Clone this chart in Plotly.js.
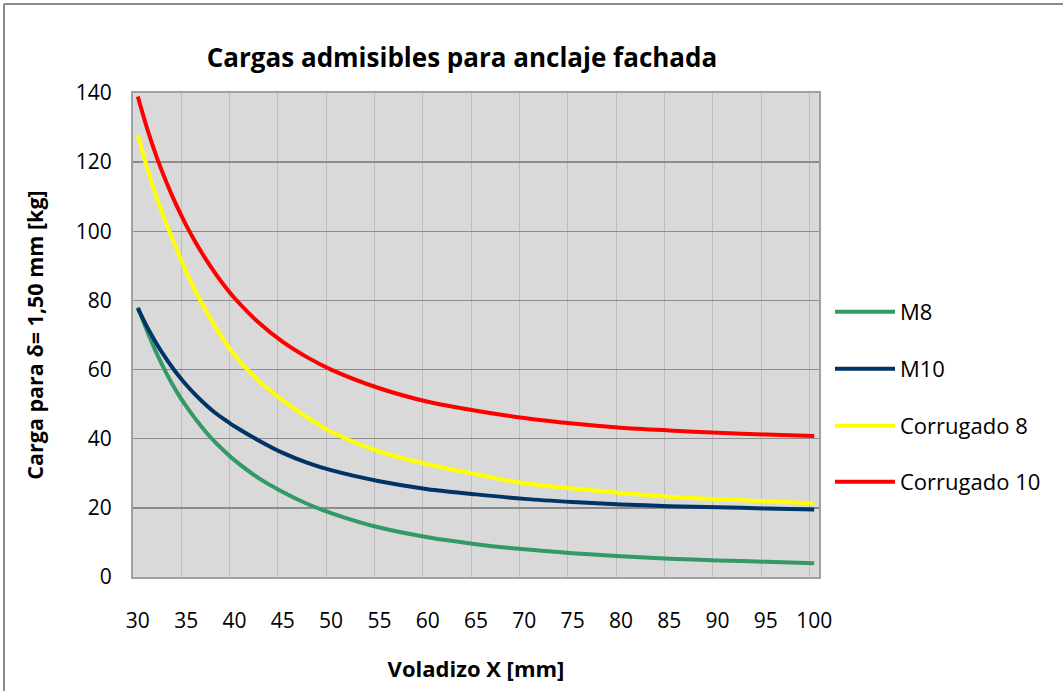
<!DOCTYPE html>
<html>
<head>
<meta charset="utf-8">
<script src="https://cdn.plot.ly/plotly-3.0.1.min.js"></script>
<style>
html,body{margin:0;padding:0;background:#fff;}
#chart{width:1063px;height:691px;}
</style>
</head>
<body>
<div id="chart"></div>
<script>
var voladizo =    [30,31,32,33,34,35,36,37,38,39,40,42.5,45,47.5,50,55,60,65,70,75,80,85,90,95,100];
var m8 =          [78,70.9,64.4,58.7,53.7,49.4,45.6,42.1,39.0,36.3,33.8,28.6,24.6,21.2,18.5,14.3,11.5,9.5,8.0,6.9,6.0,5.3,4.8,4.4,4.0];
var m10 =         [77.7,72.1,67.2,62.9,59.0,55.6,52.6,49.9,47.5,45.5,43.6,39.5,35.9,33.1,30.9,27.7,25.4,23.9,22.6,21.7,21.0,20.5,20.2,19.8,19.5];
var corrugado8 =  [127.9,118.0,109.4,101.8,95.0,88.3,82.5,77.3,72.5,68.1,64.2,56.8,51.1,46.2,42.0,36.3,32.6,29.7,27.1,25.6,24.3,23.2,22.5,21.9,21.3];
var corrugado10 = [139.0,129.4,121.1,113.9,107.5,101.8,96.7,92.1,87.9,84.1,80.7,73.6,68.0,63.6,60.0,54.6,50.7,48.1,46.0,44.4,43.2,42.4,41.7,41.2,40.8];
var xTicks = [30,35,40,45,50,55,60,65,70,75,80,85,90,95,100];
var yTicks = [0,20,40,60,80,100,120,140];

var seriesNames = ['M8','M10','Corrugado 8','Corrugado 10'];
var seriesData = [m8, m10, corrugado8, corrugado10];
var seriesColors = ['#339966','#003366','#ffff00','#ff0000'];
var legendIds = ['legend','legend2','legend3','legend4'];
var legendRowsPx = [312,369,426,482];

var L = 133, T = 93, W = 686, H = 484;
var traces = seriesData.map(function(d,i){
  return {x: voladizo, y: d, name: seriesNames[i], type:'scatter', mode:'lines',
    line:{color: seriesColors[i], width:4, shape:'spline', smoothing:0.8},
    legend: legendIds[i], hoverinfo:'x+y+name'};
});

var font = "'Open Sans', 'Liberation Sans', sans-serif";
var layout = {
  width:1063, height:691,
  margin:{l:L, r:1063-L-W, t:T, b:691-T-H},
  paper_bgcolor:'#ffffff', plot_bgcolor:'#d9d9d9',
  font:{family:font, color:'#000', size:21},
  title:{text:'<b>Cargas admisibles para anclaje fachada</b>', font:{family:font, size:26, color:'#000'},
    x:462/1063, xanchor:'center', y:1-58/691, yanchor:'middle'},
  xaxis:{range:[29.5,100.5], tickmode:'array', tickvals:xTicks, ticktext:xTicks.map(String),
    showgrid:false, zeroline:false, showline:true, linecolor:'#a0a0a0', linewidth:2, mirror:true,
    ticks:'', ticklabelstandoff:24, tickfont:{size:21, family:font},
    minor:{tickmode:'linear', tick0:29.5, dtick:5, showgrid:true, gridcolor:'#bcbcbc', gridwidth:1, ticks:''},
    title:{text:'<b>Voladizo X [mm]</b>', font:{size:22, family:font}, standoff:28}},
  yaxis:{range:[0,140], tickmode:'array', tickvals:yTicks, showgrid:true, gridcolor:'#8c8c8c', gridwidth:1.5,
    zeroline:false, showline:true, linecolor:'#a0a0a0', linewidth:2, mirror:true, ticks:'',
    ticklabelstandoff:15, tickfont:{size:21, family:font},
    title:{text:'<b>Carga para δ= 1,50 mm [kg]</b>', font:{size:21.5, family:font}, standoff:26}},
  shapes:[
    {type:'line', xref:'paper', yref:'paper', x0:(4-L)/W, x1:(1063-L)/W, y0:(T+H-4)/H, y1:(T+H-4)/H, line:{color:'#8a8a8a', width:2}},
    {type:'line', xref:'paper', yref:'paper', x0:(4-L)/W, x1:(4-L)/W, y0:(T+H-4)/H, y1:(T+H-691)/H, line:{color:'#8a8a8a', width:2}}
  ],
  showlegend:true
};
legendIds.forEach(function(id,i){
  layout[id] = {x:(830-L)/W, xanchor:'left', y:(T+H-legendRowsPx[i])/H, yanchor:'middle',
    bgcolor:'rgba(0,0,0,0)', borderwidth:0, font:{size:22, family:font, color:'#000'}, itemwidth:60};
});
Plotly.newPlot('chart', traces, layout, {displayModeBar:false, staticPlot:true});
</script>
</body>
</html>
